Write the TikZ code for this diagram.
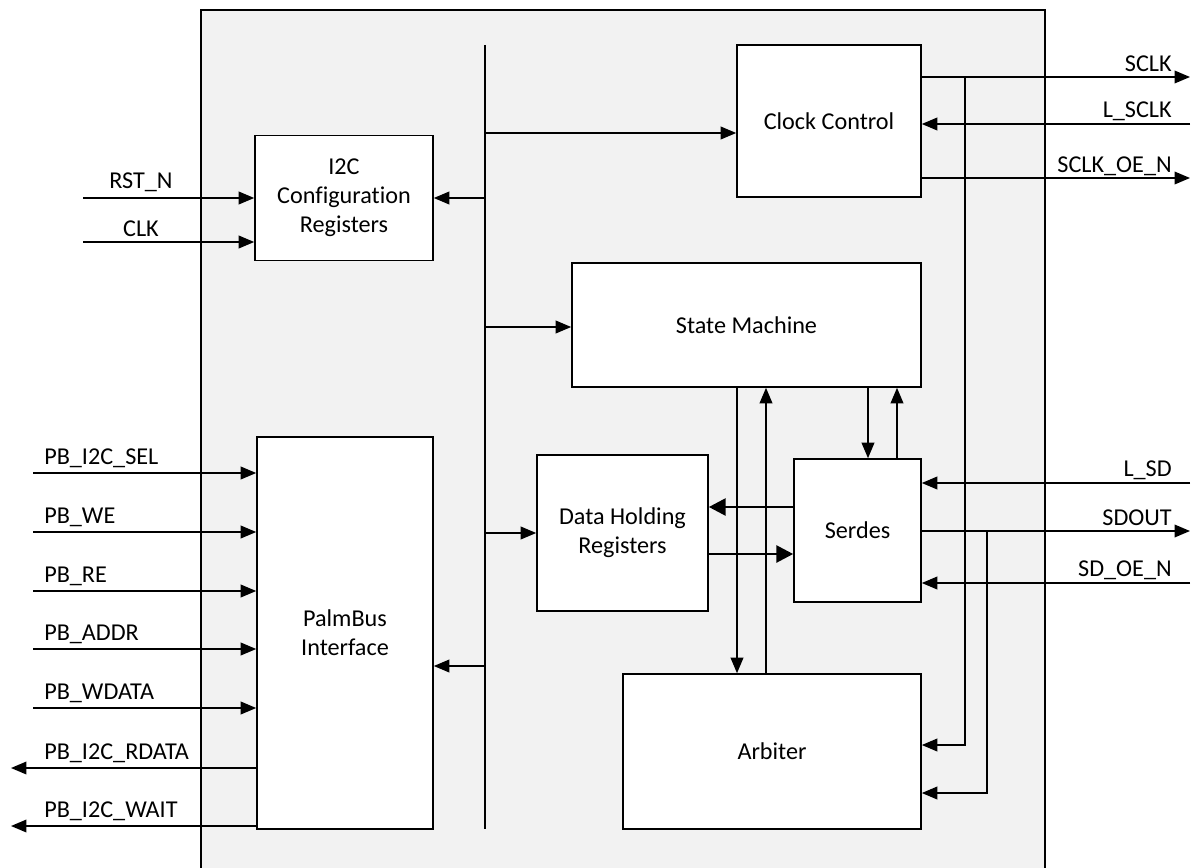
\documentclass[tikz,border=0pt]{standalone}
\usepackage{fontspec}
\setmainfont{Carlito}[Ligatures=NoCommon]
\usetikzlibrary{arrows.meta}
\definecolor{chipgray}{RGB}{242,242,242}
\newcommand{\blkfont}{\fontsize{17.2pt}{20.6pt}\selectfont}

\begin{document}
\begin{tikzpicture}[
  x=0.025cm, y=-0.025cm,
  block/.style={draw, line width=1.1pt, fill=white, align=center, font=\blkfont, inner sep=0pt},
  lbl/.style={font=\blkfont, inner sep=0pt},
  wire/.style={line width=1.1pt},
  arrow/.style={-{Triangle[length=11pt,width=9pt]}, line width=1.1pt},
  bigarrow/.style={-{Triangle[length=12pt,width=12pt]}, line width=2.1pt}
]
\clip (0,0) rectangle (1195,867);

% chip outline
\draw[line width=1.1pt, fill=chipgray] (201,10) rectangle (1045,890);

% blocks
\node[block, minimum width=4.6cm, minimum height=3.8cm] (clk) at (829,121) {Clock Control};
\node[block, minimum width=4.45cm, minimum height=3.125cm] (i2c) at (344,198) {I2C\\Configuration\\Registers};
\node[block, minimum width=8.725cm, minimum height=3.1cm] (sm) at (746.5,325) {State Machine};
\node[block, minimum width=4.275cm, minimum height=3.9cm] (dhr) at (622.5,533) {Data Holding\\Registers};
\node[block, minimum width=3.175cm, minimum height=3.575cm] (serdes) at (857.5,530.5) {Serdes};
\node[block, minimum width=7.45cm, minimum height=3.875cm] (arb) at (772,751.5) {Arbiter};
\node[block, minimum width=4.4cm, minimum height=9.8cm] (pb) at (345,633) {PalmBus\\Interface};

% internal bus
\coordinate (bustop) at (485,45);
\coordinate (busbot) at (485,829);
\draw[wire] (bustop) -- (busbot);
\draw[arrow] (bustop |- 0,133) -- (clk.west |- 0,133);
\draw[arrow] (bustop |- i2c.east) -- (i2c.east);
\draw[arrow] (bustop |- 0,327) -- (sm.west |- 0,327);
\draw[arrow] (bustop |- dhr.west) -- (dhr.west);
\draw[arrow] (bustop |- 0,666) -- (pb.east |- 0,666);

% state machine links
\draw[arrow] (sm.south -| 737,0) -- (arb.north -| 737,0);
\draw[arrow] (arb.north -| 766,0) -- (sm.south -| 766,0);
\draw[arrow] (sm.south -| 868,0) -- (serdes.north -| 868,0);
\draw[arrow] (serdes.north -| 897,0) -- (sm.south -| 897,0);
\draw[bigarrow] (serdes.west |- 0,507) -- (dhr.east |- 0,507);
\draw[bigarrow] (dhr.east |- 0,554) -- (serdes.west |- 0,554);

% clock pins
\coordinate (sclk) at (1190,77);
\coordinate (lsclk) at (1190,124);
\coordinate (sclkoe) at (1190,178);
\draw[arrow] (clk.east |- sclk) -- (sclk);
\draw[arrow] (lsclk) -- (clk.east |- lsclk);
\draw[arrow] (clk.east |- sclkoe) -- (sclkoe);
\node[lbl, anchor=base east] (sclkl) at (1172,71) {SCLK};
\node[lbl, anchor=base east] (lsclkl) at (1172,117) {L\_SCLK};
\node[lbl, anchor=base east] (sclkoel) at (1172,172) {SCLK\_OE\_N};

% serdes pins
\coordinate (lsd) at (1190,483);
\coordinate (sdout) at (1190,531);
\coordinate (sdoe) at (1190,583);
\draw[arrow] (lsd) -- (serdes.east |- lsd);
\draw[arrow] (serdes.east |- sdout) -- (sdout);
\draw[arrow] (sdoe) -- (serdes.east |- sdoe);
\node[lbl, anchor=base east] (lsdl) at (1172,476) {L\_SD};
\node[lbl, anchor=base east] (sdoutl) at (1172,525) {SDOUT};
\node[lbl, anchor=base east] (sdoel) at (1172,576) {SD\_OE\_N};

% taps to arbiter
\coordinate (tapa) at (965,77);
\coordinate (tapb) at (987,531);
\draw[arrow] (tapa) |- (arb.east |- 0,745);
\draw[arrow] (tapb) |- (arb.east |- 0,793);

% reset and clock
\coordinate (rstn) at (83,198);
\coordinate (clkin) at (83,242);
\draw[arrow] (rstn) -- (i2c.west |- rstn);
\draw[arrow] (clkin) -- (i2c.west |- clkin);
\node[lbl, anchor=base] (rstnl) at (141,188) {RST\_N};
\node[lbl, anchor=base] (clkinl) at (141,236) {CLK};

% palmbus pins
\coordinate (pbsel) at (33,473);
\coordinate (pbwe) at (33,532);
\coordinate (pbre) at (33,591);
\coordinate (pbaddr) at (33,649);
\coordinate (pbwdata) at (33,708);
\coordinate (pbrdata) at (11,768);
\coordinate (pbwait) at (11,826);
\draw[arrow] (pbsel) -- (pb.west |- pbsel);
\draw[arrow] (pbwe) -- (pb.west |- pbwe);
\draw[arrow] (pbre) -- (pb.west |- pbre);
\draw[arrow] (pbaddr) -- (pb.west |- pbaddr);
\draw[arrow] (pbwdata) -- (pb.west |- pbwdata);
\draw[arrow] (pb.west |- pbrdata) -- (pbrdata);
\draw[arrow] (pb.west |- pbwait) -- (pbwait);
\node[lbl, anchor=base west] (pbsell) at (44,464) {PB\_I2C\_SEL};
\node[lbl, anchor=base west] (pbwel) at (44,523) {PB\_WE};
\node[lbl, anchor=base west] (pbrel) at (44,582) {PB\_RE};
\node[lbl, anchor=base west] (pbaddrl) at (44,640) {PB\_ADDR};
\node[lbl, anchor=base west] (pbwdatal) at (44,699) {PB\_WDATA};
\node[lbl, anchor=base west] (pbrdatal) at (44,759) {PB\_I2C\_RDATA};
\node[lbl, anchor=base west] (pbwaitl) at (44,817) {PB\_I2C\_WAIT};
\end{tikzpicture}
\end{document}
